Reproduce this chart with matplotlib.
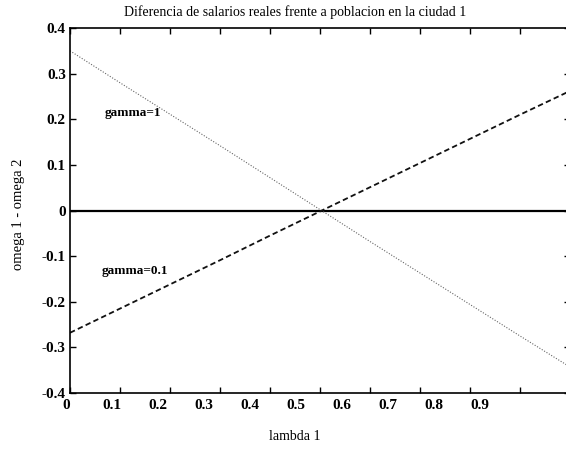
import matplotlib
matplotlib.use("Agg")
import matplotlib.pyplot as plt
import matplotlib.transforms as mtransforms

lambda1 = [0.0, 0.1, 0.2, 0.3, 0.4, 0.5, 0.6, 0.7, 0.8, 0.9, 1.0]
gamma_1 = [0.350, 0.280, 0.211, 0.142, 0.072, 0.002, -0.068, -0.137, -0.206, -0.275, -0.343]
gamma_01 = [-0.268, -0.215, -0.162, -0.109, -0.055, -0.002, 0.051, 0.104, 0.157, 0.210, 0.262]
zero_line = [0.0] * len(lambda1)

xticks = [0, 0.1, 0.2, 0.3, 0.4, 0.5, 0.6, 0.7, 0.8, 0.9]
xticklabels = ["0", "0.1", "0.2", "0.3", "0.4", "0.5", "0.6", "0.7", "0.8", "0.9"]
yticks = [-0.4, -0.3, -0.2, -0.1, 0, 0.1, 0.2, 0.3, 0.4]
yticklabels = ["-0.4", "-0.3", "-0.2", "-0.1", "0", "0.1", "0.2", "0.3", "0.4"]

plt.rcParams['font.family'] = ['Liberation Serif', 'DejaVu Serif']

fig = plt.figure(figsize=(5.66, 4.5), dpi=100)
ax = fig.add_axes([70/566, 1 - 393/450, 500/566, (393 - 28)/450])

ax.plot(lambda1, zero_line, color='black', lw=1.6, solid_capstyle='butt')
ax.plot(lambda1, gamma_1, color='#666666', lw=0.8, linestyle=(0, (1, 1.5)))
ax.plot(lambda1, gamma_01, color='#111111', lw=1.3, linestyle=(0, (3, 1.8)))

ax.text(0.07, 0.213, "gamma=1", fontsize=9.5, fontweight='bold', va='center', ha='left')
ax.text(0.064, -0.132, "gamma=0.1", fontsize=9.5, fontweight='bold', va='center', ha='left')

ax.set_xlim(0, 1)
ax.set_ylim(-0.4, 0.4)
ax.set_xticks(xticks + [1.0])
ax.set_xticklabels(xticklabels + [""])
ax.set_yticks(yticks)
ax.set_yticklabels(yticklabels)
ax.tick_params(direction='in', top=True, right=True, length=4, width=1, labelsize=11)
ax.tick_params(axis='x', pad=4)
ax.tick_params(axis='y', pad=3)
for lbl in ax.get_xticklabels() + ax.get_yticklabels():
    lbl.set_fontweight('bold')

# the scanned reference has its x tick labels slightly compressed leftwards
for v, lbl in zip(xticks, ax.get_xticklabels()):
    dx = (-4 - 40 * v) / 100.0
    lbl.set_transform(lbl.get_transform() + mtransforms.ScaledTranslation(dx, 0, fig.dpi_scale_trans))

for s in ax.spines.values():
    s.set_linewidth(1.2)

fig.text(295/566, 1 - 12/450, "Diferencia de salarios reales frente a poblacion en la ciudad 1",
         fontsize=10, ha='center', va='center')
fig.text(295/566, 1 - 437/450, "lambda 1", fontsize=10, ha='center', va='center')
fig.text(19/566, 1 - 214/450, "omega 1 - omega 2", fontsize=10.5, ha='center', va='center',
         rotation=90)

fig.savefig("out.png", dpi=100)
